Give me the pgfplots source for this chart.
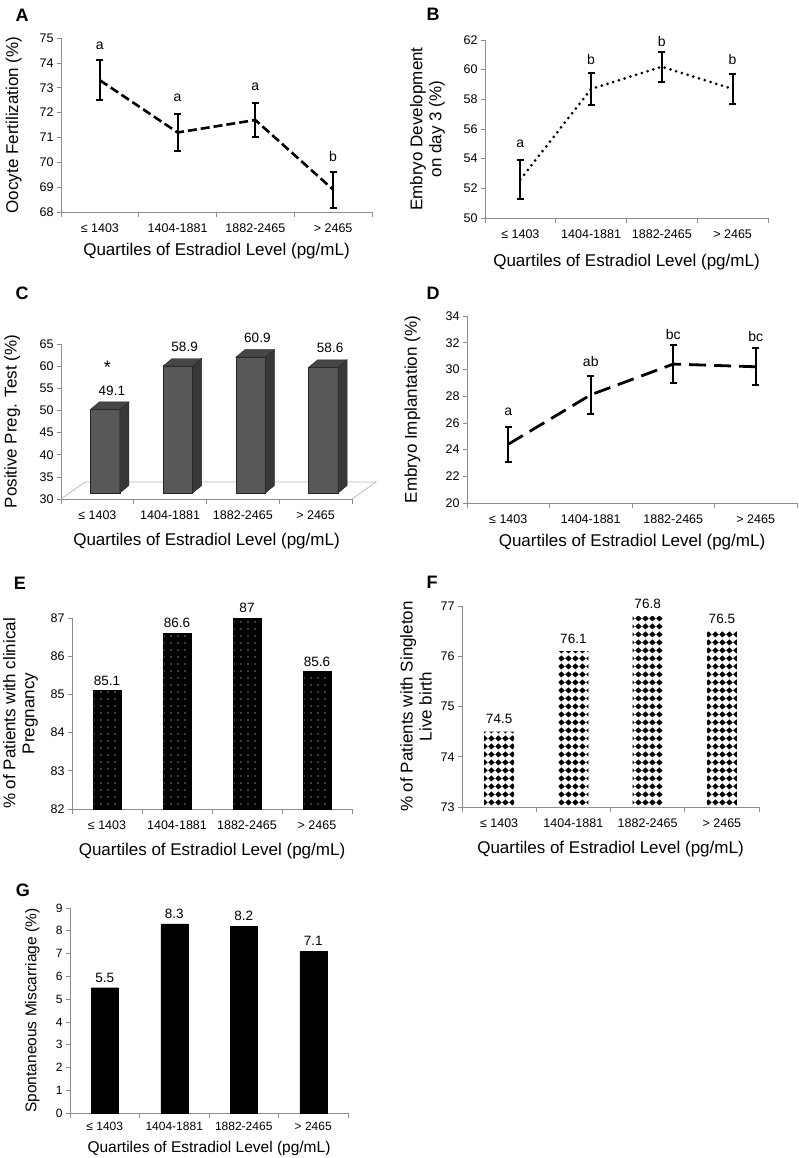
\documentclass[border=0pt]{standalone}
\usepackage{fontspec}
\setmainfont{Liberation Sans}
\usepackage{pgfplots}
\pgfplotsset{compat=1.18}
\usetikzlibrary{patterns.meta}

\definecolor{axgray}{HTML}{8C8C8C}
\definecolor{cfront}{HTML}{585858}
\definecolor{cside}{HTML}{383838}
\definecolor{ctop}{HTML}{464646}
\definecolor{floorgray}{HTML}{B4B4B4}

\newcommand{\ticksize}{\fontsize{12.5}{14}\selectfont}
\newcommand{\labsize}{\fontsize{17}{19}\selectfont}
\newcommand{\valsize}{\fontsize{13.5}{15}\selectfont}

% white dots on black (panel E)
\tikzdeclarepattern{name=sparsedots, type=uncolored,
  bounding box={(0pt,0pt) and (6.5pt,6.5pt)}, tile size={(6.5pt,6.5pt)},
  code={\pgfpathcircle{\pgfpoint{3.25pt}{3.25pt}}{0.6pt}\pgfusepath{fill}}}
% black diamonds (panel F)
\tikzdeclarepattern{name=diamonds, type=uncolored,
  bounding box={(0pt,0pt) and (7.4pt,8pt)}, tile size={(7.4pt,8pt)},
  code={\pgfpathmoveto{\pgfpoint{3.7pt}{0.6pt}}\pgfpathlineto{\pgfpoint{7.2pt}{4pt}}%
    \pgfpathlineto{\pgfpoint{3.7pt}{7.4pt}}\pgfpathlineto{\pgfpoint{0.2pt}{4pt}}%
    \pgfpathclose\pgfusepath{fill}}}

% 3D bar for panel C, origin at the data point
\pgfdeclareplotmark{bar3d}{%
  \pgfmathsetmacro\hb{(\barval-31.35)*155/35+5}%
  \pgfsetlinewidth{0.4pt}\pgfsetstrokecolor{black!85}%
  \pgfsetfillcolor{cfront}%
  \pgfpathrectanglecorners{\pgfpoint{-7pt}{5pt}}{\pgfpoint{22.5pt}{5pt-\hb pt}}%
  \pgfusepath{fill,stroke}%
  \pgfsetfillcolor{cside}%
  \pgfpathmoveto{\pgfpoint{22.5pt}{5pt}}\pgfpathlineto{\pgfpoint{31.5pt}{12.5pt}}%
  \pgfpathlineto{\pgfpoint{31.5pt}{12.5pt-\hb pt}}\pgfpathlineto{\pgfpoint{22.5pt}{5pt-\hb pt}}%
  \pgfpathclose\pgfusepath{fill,stroke}%
  \pgfsetfillcolor{ctop}%
  \pgfpathmoveto{\pgfpoint{-7pt}{5pt}}\pgfpathlineto{\pgfpoint{2pt}{12.5pt}}%
  \pgfpathlineto{\pgfpoint{31.5pt}{12.5pt}}\pgfpathlineto{\pgfpoint{22.5pt}{5pt}}%
  \pgfpathclose\pgfusepath{fill,stroke}%
}

\pgfplotsset{
  panel/.style={
    scale only axis, anchor=south west,
    axis x line=bottom, axis y line=left,
    axis line style={-, axgray, line width=0.7pt},
    xmin=-0.5, xmax=3.5,
    xtick={0,1,2,3},
    xticklabels={≤ 1403,1404-1881,1882-2465,> 2465},
    minor xtick={-0.5,0.5,1.5,2.5,3.5},
    major x tick style={draw=none},
    minor x tick style={axgray, line width=0.7pt},
    y tick style={axgray, line width=0.7pt},
    tick align=outside,
    major tick length=4pt, minor tick length=5pt,
    tick label style={font=\ticksize},
    xticklabel style={yshift=-4pt},
    label style={font=\labsize},
    ylabel style={align=center},
    xlabel style={yshift=-3pt},
    /pgf/number format/assume math mode=true,
    xlabel={Quartiles of Estradiol Level (pg/mL)},
  },
  errline/.style={black, mark=none,
    error bars/y dir=both, error bars/y explicit,
    error bars/error bar style={line width=2.2pt, solid, line cap=butt},
    error bars/error mark options={rotate=90, line width=2pt, solid, mark size=3.6pt}},
  letters/.style={draw=none, mark=none, nodes near coords, point meta=explicit symbolic,
    every node near coord/.append style={font=\fontsize{14}{16}\selectfont, anchor=center, black}},
}

\begin{document}
\begin{tikzpicture}
\useasboundingbox (0,0) rectangle (798pt,-1158pt);

% ---------- A ----------
\begin{axis}[panel, at={(61pt,-212pt)}, width=311pt, height=174pt, clip=false,
  ymin=68, ymax=75, ytick={68,69,...,75},
  ylabel={Oocyte Fertilization (\%)},
  ylabel style={at={(axis description cs:-0.152,0.5)}, anchor=center},
  xlabel style={at={(axis description cs:0.5,-0.207)}, anchor=center}]
\addplot[errline, line width=2.6pt, dash pattern=on 9pt off 4pt] coordinates {
 (0,73.3) +- (0,0.8) (1,71.2) +- (0,0.75) (2,71.7) +- (0,0.7) (3,68.9) +- (0,0.72)};
\addplot[letters] coordinates {(0,74.7)[a] (1,72.6)[a] (2,73.05)[a] (3,70.25)[b]};
\end{axis}

% ---------- B ----------
\begin{axis}[panel, at={(485pt,-218pt)}, width=283pt, height=178pt, clip=false,
  ymin=50, ymax=62, ytick={50,52,...,62},
  ylabel={Embryo Development\\on day 3 (\%)},
  ylabel style={at={(axis description cs:-0.203,0.5)}, anchor=center},
  xlabel style={at={(axis description cs:0.5,-0.230)}, anchor=center}]
\addplot[errline, line width=3pt, dash pattern=on 0pt off 6pt, line cap=round] coordinates {
 (0,52.6) +- (0,1.3) (1,58.7) +- (0,1.1) (2,60.2) +- (0,1.0) (3,58.7) +- (0,1.0)};
\addplot[letters] coordinates {(0,55.0)[a] (1,60.7)[b] (2,61.9)[b] (3,60.7)[b]};
\end{axis}

% ---------- C ----------
\begin{axis}[panel, at={(61pt,-499pt)}, width=291pt, height=155pt, clip=false,
  ymin=30, ymax=65, ytick={30,35,...,65},
  ylabel={Positive Preg. Test (\%)},
  ylabel style={at={(axis description cs:-0.168,0.5)}, anchor=center},
  xlabel style={at={(axis description cs:0.5,-0.252)}, anchor=center}]
\draw[floorgray, line width=0.7pt] (axis cs:-0.5,30) -- ++(24pt,17pt)
  -- ([xshift=24pt,yshift=17pt]axis cs:3.5,30) -- (axis cs:3.5,30);
\addplot[scatter, only marks, mark=bar3d, scatter/use mapped color={draw=black,fill=black},
  visualization depends on={\thisrow{v}\as\barval},
  nodes near coords,
  every node near coord/.append style={font=\valsize, anchor=center, xshift=14.5pt, yshift=24pt, black}]
  table[x=x, y=v] {
x v
0 49.1
1 58.9
2 60.9
3 58.6
};
\addplot[draw=none, mark=none, nodes near coords={*},
  every node near coord/.append style={font=\fontsize{18}{18}\selectfont, anchor=center, xshift=10pt, yshift=47pt, black}]
  coordinates {(0,49.1)};
\end{axis}

% ---------- D ----------
\begin{axis}[panel, at={(467pt,-503pt)}, width=330pt, height=187pt, clip=false,
  ymin=20, ymax=34, ytick={20,22,...,34},
  ylabel={Embryo Implantation (\%)},
  ylabel style={at={(axis description cs:-0.165,0.5)}, anchor=center},
  xlabel style={at={(axis description cs:0.5,-0.193)}, anchor=center}]
\addplot[errline, line width=2.8pt, dash pattern=on 17pt off 8pt] coordinates {
 (0,24.4) +- (0,1.3) (1,28.1) +- (0,1.4) (2,30.4) +- (0,1.4) (3,30.2) +- (0,1.4)};
\addplot[letters] coordinates {(0,26.8)[a] (1,30.6)[ab] (2,32.63)[bc] (3,32.5)[bc]};
\end{axis}

% ---------- E ----------
\begin{axis}[panel, at={(72pt,-809pt)}, width=280pt, height=191pt,
  ymin=82, ymax=87, ytick={82,83,...,87},
  ylabel={\% of Patients with clinical\\Pregnancy},
  ylabel style={at={(axis description cs:-0.184,0.5)}, anchor=center},
  xlabel style={at={(axis description cs:0.5,-0.204)}, anchor=center}]
\addplot[ybar, bar width=28pt, draw=black, line width=0.5pt, fill=black,
  postaction={pattern=sparsedots, pattern color=white},
  nodes near coords,
  every node near coord/.append style={font=\valsize, anchor=center, yshift=10pt, black}]
  coordinates {(0,85.1) (1,86.6) (2,87) (3,85.6)};
\end{axis}

% ---------- F ----------
\begin{axis}[panel, at={(462pt,-807pt)}, width=297pt, height=201pt,
  ymin=73, ymax=77, ytick={73,74,...,77},
  ylabel={\% of Patients with Singleton\\Live birth},
  ylabel style={at={(axis description cs:-0.155,0.5)}, anchor=center},
  xlabel style={at={(axis description cs:0.5,-0.194)}, anchor=center}]
\addplot[ybar, bar width=30pt, draw=none, fill=white,
  postaction={pattern=diamonds, pattern color=black},
  nodes near coords,
  every node near coord/.append style={font=\valsize, anchor=center, yshift=12.5pt, black}]
  coordinates {(0,74.5) (1,76.1) (2,76.8) (3,76.5)};
\end{axis}

% ---------- G ----------
\begin{axis}[panel, at={(70pt,-1113pt)}, width=278pt, height=205pt,
  ymin=0, ymax=9, ytick={0,1,...,9},
  tick label style={font=\fontsize{12}{13}\selectfont},
  xticklabel style={yshift=2pt},
  label style={font=\fontsize{15.5}{18}\selectfont},
  ylabel={Spontaneous Miscarriage (\%)},
  ylabel style={at={(axis description cs:-0.135,0.5)}, anchor=center},
  xlabel style={at={(axis description cs:0.5,-0.160)}, anchor=center}]
\addplot[ybar, bar width=27pt, draw=black, fill=black,
  nodes near coords,
  every node near coord/.append style={font=\valsize, anchor=center, yshift=10pt, black}]
  coordinates {(0,5.5) (1,8.3) (2,8.2) (3,7.1)};
\end{axis}

% panel letters
\begin{scope}[every node/.style={font=\bfseries\fontsize{18}{18}\selectfont, anchor=center}]
\node at (22pt,-15pt) {A};
\node at (433pt,-14pt) {B};
\node at (22pt,-293pt) {C};
\node at (433pt,-293pt) {D};
\node at (20pt,-583pt) {E};
\node at (432pt,-582pt) {F};
\node at (23pt,-890pt) {G};
\end{scope}
\end{tikzpicture}
\end{document}
